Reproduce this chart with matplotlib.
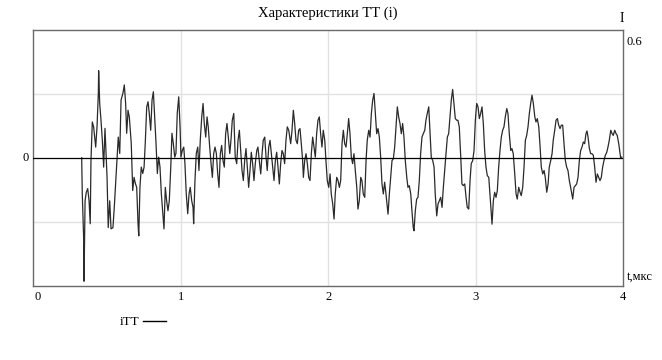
import matplotlib
matplotlib.use("Agg")
import matplotlib.pyplot as plt

plt.rcParams['font.family'] = ['Liberation Serif', 'DejaVu Serif']

# current of the transformer
t_us = [
    0.328, 0.332, 0.342, 0.344, 0.351, 0.359, 0.369, 0.378, 0.386, 0.391, 0.400, 0.409, 0.423, 0.432, 0.441, 0.443,
    0.450, 0.459, 0.468, 0.477, 0.486, 0.493, 0.500, 0.508, 0.518, 0.527, 0.540, 0.549, 0.559, 0.567, 0.576, 0.586,
    0.595, 0.608, 0.617, 0.626, 0.633, 0.640, 0.642, 0.651, 0.664, 0.674, 0.683, 0.692, 0.701, 0.710, 0.715, 0.723,
    0.732, 0.742, 0.751, 0.759, 0.769, 0.778, 0.786, 0.796, 0.805, 0.814, 0.823, 0.832, 0.841, 0.850, 0.859, 0.868,
    0.877, 0.886, 0.895, 0.904, 0.913, 0.922, 0.932, 0.940, 0.949, 0.959, 0.967, 0.976, 0.986, 0.995, 1.001, 1.010,
    1.020, 1.028, 1.037, 1.047, 1.056, 1.064, 1.074, 1.083, 1.087, 1.096, 1.105, 1.115, 1.123, 1.132, 1.142, 1.151,
    1.159, 1.169, 1.178, 1.186, 1.196, 1.205, 1.214, 1.223, 1.232, 1.241, 1.250, 1.259, 1.268, 1.277, 1.286, 1.295,
    1.304, 1.313, 1.322, 1.332, 1.340, 1.349, 1.359, 1.369, 1.379, 1.388, 1.397, 1.406, 1.415, 1.424, 1.433, 1.442,
    1.451, 1.460, 1.469, 1.478, 1.487, 1.496, 1.505, 1.515, 1.523, 1.532, 1.542, 1.551, 1.559, 1.569, 1.578, 1.586,
    1.596, 1.605, 1.614, 1.623, 1.632, 1.641, 1.650, 1.659, 1.668, 1.677, 1.686, 1.695, 1.704, 1.713, 1.722, 1.732,
    1.745, 1.754, 1.763, 1.772, 1.781, 1.790, 1.799, 1.808, 1.817, 1.826, 1.831, 1.840, 1.849, 1.858, 1.867, 1.876,
    1.885, 1.894, 1.903, 1.912, 1.921, 1.930, 1.939, 1.948, 1.957, 1.966, 1.976, 1.984, 1.993, 2.003, 2.012, 2.020,
    2.030, 2.039, 2.047, 2.057, 2.066, 2.075, 2.084, 2.093, 2.102, 2.111, 2.120, 2.129, 2.138, 2.147, 2.156, 2.165,
    2.174, 2.183, 2.193, 2.201, 2.210, 2.220, 2.228, 2.237, 2.247, 2.256, 2.264, 2.274, 2.283, 2.292, 2.301, 2.310,
    2.319, 2.328, 2.337, 2.346, 2.355, 2.364, 2.373, 2.382, 2.391, 2.400, 2.405, 2.414, 2.423, 2.432, 2.441, 2.450,
    2.459, 2.468, 2.477, 2.486, 2.495, 2.504, 2.513, 2.522, 2.532, 2.540, 2.549, 2.559, 2.567, 2.576, 2.581, 2.590,
    2.599, 2.608, 2.617, 2.626, 2.635, 2.644, 2.654, 2.662, 2.671, 2.681, 2.690, 2.698, 2.708, 2.717, 2.725, 2.735,
    2.744, 2.753, 2.762, 2.771, 2.780, 2.789, 2.798, 2.807, 2.816, 2.825, 2.834, 2.843, 2.852, 2.861, 2.871, 2.879,
    2.888, 2.898, 2.906, 2.915, 2.925, 2.934, 2.942, 2.952, 2.961, 2.969, 2.979, 2.988, 2.997, 3.006, 3.015, 3.024,
    3.033, 3.042, 3.051, 3.060, 3.069, 3.078, 3.088, 3.096, 3.105, 3.110, 3.119, 3.128, 3.137, 3.146, 3.155, 3.164,
    3.173, 3.182, 3.191, 3.200, 3.210, 3.218, 3.227, 3.237, 3.245, 3.254, 3.264, 3.273, 3.281, 3.291, 3.300, 3.308,
    3.318, 3.327, 3.336, 3.345, 3.354, 3.363, 3.372, 3.381, 3.390, 3.400, 3.408, 3.417, 3.427, 3.436, 3.444, 3.454,
    3.463, 3.471, 3.481, 3.490, 3.498, 3.508, 3.517, 3.525, 3.535, 3.544, 3.553, 3.562, 3.571, 3.580, 3.589, 3.598,
    3.607, 3.616, 3.625, 3.634, 3.647, 3.657, 3.666, 3.675, 3.684, 3.693, 3.702, 3.711, 3.720, 3.729, 3.738, 3.747,
    3.754, 3.761, 3.770, 3.779, 3.788, 3.797, 3.806, 3.815, 3.824, 3.833, 3.842, 3.851, 3.860, 3.869, 3.878, 3.888,
    3.896, 3.905, 3.915, 3.924, 3.932, 3.942, 3.951, 3.959, 3.969, 3.978, 3.982, 3.989,
]
i_tt = [
    0.000, -0.169, -0.391, -0.580, -0.202, -0.163, -0.145, -0.202, -0.310, -0.013, 0.168, 0.145, 0.050, 0.145, 0.304, 0.409,
    0.256, 0.176, 0.082, -0.044, 0.138, 0.020, -0.092, -0.328, -0.202, -0.334, -0.328, -0.233, -0.107, -0.013, 0.097, 0.020,
    0.271, 0.304, 0.342, 0.256, 0.115, 0.192, 0.223, 0.192, 0.068, -0.154, -0.092, -0.121, -0.139, -0.310, -0.367, -0.139,
    -0.044, -0.074, -0.044, 0.068, 0.239, 0.263, 0.209, 0.129, 0.271, 0.310, 0.192, 0.068, -0.074, 0.003, -0.044, -0.169,
    -0.249, -0.334, -0.139, -0.202, -0.249, -0.202, -0.044, 0.115, 0.068, 0.003, 0.020, 0.209, 0.286, 0.145, 0.003, 0.034,
    0.050, -0.027, -0.169, -0.263, -0.169, -0.139, -0.202, -0.233, -0.310, -0.107, 0.020, 0.050, -0.060, 0.082, 0.192, 0.255,
    0.161, 0.097, 0.192, 0.145, 0.050, -0.027, -0.092, 0.020, 0.050, 0.020, -0.074, -0.139, 0.020, 0.058, -0.013, -0.044,
    0.113, 0.161, 0.097, 0.020, 0.082, 0.176, 0.208, 0.003, -0.028, 0.082, 0.129, 0.034, -0.060, -0.107, -0.013, 0.043,
    -0.044, -0.139, -0.060, 0.026, -0.028, -0.107, -0.028, 0.034, 0.050, -0.013, -0.076, 0.019, 0.082, 0.097, 0.003, -0.060,
    0.050, 0.082, 0.019, -0.044, -0.107, -0.013, 0.026, -0.044, -0.123, -0.028, 0.034, 0.019, -0.028, 0.082, 0.145, 0.129,
    0.066, 0.129, 0.223, 0.161, 0.082, 0.066, 0.129, 0.137, 0.066, -0.013, -0.092, -0.013, 0.019, -0.028, -0.092, -0.107,
    0.019, 0.097, 0.050, 0.003, 0.113, 0.176, 0.192, 0.113, 0.050, 0.129, 0.082, -0.013, -0.107, -0.139, -0.076, -0.170,
    -0.217, -0.288, -0.170, -0.092, -0.107, -0.139, -0.107, 0.066, 0.129, 0.066, 0.050, 0.113, 0.184, 0.113, 0.003, -0.028,
    0.019, -0.060, -0.139, -0.241, -0.202, -0.092, -0.107, -0.170, -0.186, -0.013, 0.082, 0.129, 0.097, 0.208, 0.271, 0.302,
    0.208, 0.113, 0.137, 0.097, 0.003, -0.123, -0.170, -0.115, -0.170, -0.233, -0.265, -0.170, -0.092, -0.013, -0.005, 0.050,
    0.145, 0.239, 0.192, 0.161, 0.113, 0.161, 0.097, -0.013, -0.092, -0.139, -0.131, -0.170, -0.249, -0.328, -0.343, -0.249,
    -0.194, -0.186, -0.107, 0.019, 0.097, 0.113, 0.129, 0.176, 0.208, 0.239, 0.113, 0.003, -0.013, -0.044, -0.170, -0.273,
    -0.217, -0.202, -0.186, -0.233, -0.139, -0.060, 0.019, 0.097, 0.113, 0.192, 0.271, 0.321, 0.255, 0.184, 0.176, 0.176,
    0.145, 0.003, -0.123, -0.131, -0.123, -0.186, -0.233, -0.241, -0.107, -0.028, -0.013, 0.034, 0.176, 0.255, 0.239, 0.184,
    0.208, 0.239, 0.161, 0.034, -0.044, -0.084, -0.092, -0.170, -0.265, -0.312, -0.202, -0.162, -0.186, -0.154, -0.044, 0.034,
    0.097, 0.129, 0.145, 0.192, 0.231, 0.208, 0.113, 0.034, 0.043, 0.019, -0.076, -0.170, -0.194, -0.139, -0.162, -0.178,
    -0.139, -0.044, 0.082, 0.105, 0.145, 0.208, 0.255, 0.294, 0.255, 0.192, 0.168, 0.184, 0.145, 0.050, -0.044, -0.076,
    -0.060, -0.092, -0.162, -0.123, -0.044, -0.013, 0.019, 0.082, 0.129, 0.176, 0.184, 0.153, 0.137, 0.153, 0.153, 0.066,
    -0.013, -0.044, -0.060, -0.107, -0.154, -0.194, -0.139, -0.131, -0.123, -0.092, -0.013, 0.034, 0.050, 0.074, 0.066, 0.113,
    0.126, 0.097, 0.043, 0.019, 0.019, 0.011, -0.044, -0.115, -0.076, -0.092, -0.107, -0.092, -0.044, -0.013, 0.011, 0.026,
    0.050, 0.082, 0.129, 0.113, 0.105, 0.129, 0.113, 0.105, 0.066, 0.019, 0.000, 0.003,
]

x_ticks = [0, 1, 2, 3, 4]
y_top = 0.6

fig = plt.figure(figsize=(6.62, 3.6), dpi=100)
ax = fig.add_axes([33.3 / 662, 74.5 / 360, 590 / 662, 255.5 / 360])

# grid like the Mathcad plot
for x in x_ticks[1:-1]:
    ax.axvline(x, color='#e2e2e2', lw=1, zorder=0)
for y in (-y_top / 2, y_top / 2):
    ax.axhline(y, color='#e2e2e2', lw=1, zorder=0)

ax.plot(t_us, i_tt, color='#2a2a2a', lw=0.9, zorder=2)
ax.axhline(0, color='black', lw=0.9, zorder=3)

ax.set_xlim(0, 4)
ax.set_ylim(-y_top, y_top)
ax.set_xticks([])
ax.set_yticks([])
for s in ax.spines.values():
    s.set_color('#6a6a6a')
    s.set_linewidth(1)

# tick labels put by hand
for x in x_ticks:
    off = 0.03 if x == 0 else 0
    ax.text(x + off, -0.655, str(x), ha='center', va='center', fontsize=9)
ax.text(-0.05, 0, '0', ha='center', va='center', fontsize=9)
ax.text(4.025, y_top - 0.055, '0.6', ha='left', va='center', fontsize=9)
ax.text(3.99, 0.652, 'I', ha='center', va='center', fontsize=10)
ax.text(4.025, -y_top + 0.04, 't,мкс', ha='left', va='center', fontsize=9)

fig.text(328 / 662, 1 - 13 / 360, 'Характеристики ТТ (i)', ha='center', va='center', fontsize=10.5)

# legend
fig.text(130 / 662, 1 - 322 / 360, 'iTT', ha='center', va='center', fontsize=9.5)
fig.add_artist(plt.Line2D([143 / 662, 166 / 662], [1 - 321 / 360, 1 - 321 / 360], color='black', lw=1))

fig.savefig('out.png', dpi=100)
